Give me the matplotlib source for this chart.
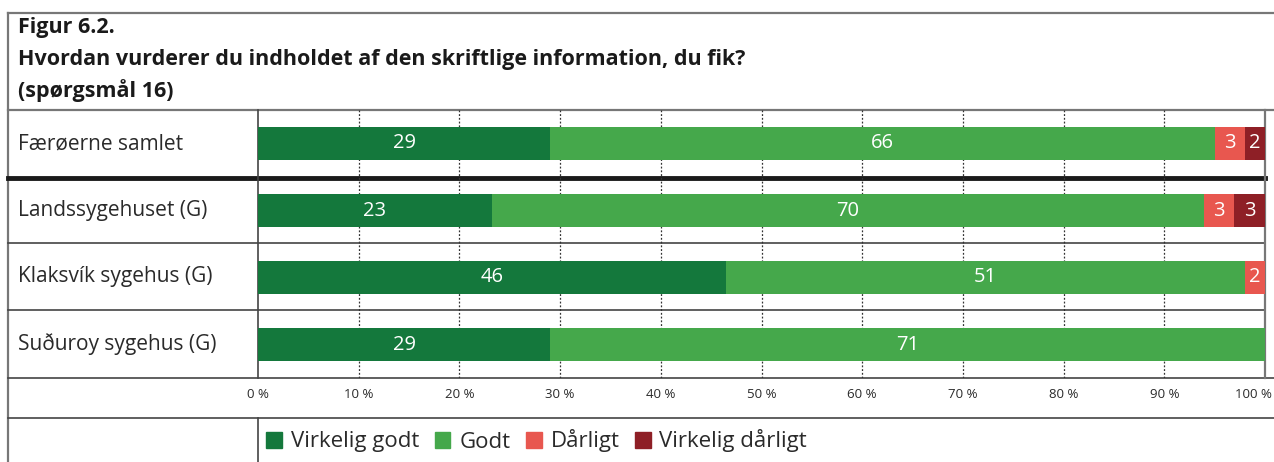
import numpy as np
import matplotlib.pyplot as plt
from matplotlib.patches import Patch

plt.rcParams['font.family'] = ['Open Sans', 'DejaVu Sans']

###############################################################
# Data
###############################################################
title_lines = ['Figur 6.2.',
               'Hvordan vurderer du indholdet af den skriftlige information, du fik?',
               '(spørgsmål 16)']
units = ['Færøerne samlet', 'Landssygehuset (G)', 'Klaksvík sygehus (G)', 'Suðuroy sygehus (G)']
categories = ['Virkelig godt', 'Godt', 'Dårligt', 'Virkelig dårligt']
virkelig_godt = [29, 23, 46, 29]
godt = [66, 70, 51, 71]
daarligt = [3, 3, 2, 0]
virkelig_daarligt = [2, 3, 0, 0]
ticks = [0, 10, 20, 30, 40, 50, 60, 70, 80, 90, 100]
colors = ['#14783c', '#45a84b', '#e8574f', '#8e1f26']

###############################################################
# Figure
###############################################################
W, H = 1274, 462
fig = plt.figure(figsize=(W / 100, H / 100), dpi=100)

# overlay in pixel coordinates for the table frame
bg = fig.add_axes([0, 0, 1, 1])
bg.set_xlim(0, W)
bg.set_ylim(H, 0)
bg.axis('off')

x0, x1 = 258, 1265
rows = [110, 178, 243, 310, 378]
lc = '#444444'

bg.plot([8, W], [13, 13], color='#777777', lw=1.6)
bg.plot([8, 8], [13, H], color='#777777', lw=1.6)
bg.plot([8, W], [110, 110], color='#777777', lw=1.6)
bg.plot([8, x1], [178, 178], color='#1a1a1a', lw=3.5)
bg.plot([8, x1], [243, 243], color=lc, lw=1.2)
bg.plot([8, x1], [310, 310], color=lc, lw=1.2)
bg.plot([8, W], [378, 378], color=lc, lw=1.2)
bg.plot([8, W], [418, 418], color=lc, lw=1.2)
bg.plot([x0, x0], [110, 378], color=lc, lw=1.2)
bg.plot([x0, x0], [418, H], color=lc, lw=1.2)
bg.plot([x1, x1], [110, 378], color='#777777', lw=1.6)

for i, line in enumerate(title_lines):
    bg.text(18, 28 + i * 31.5, line, fontsize=15.5, fontweight='bold',
            color='#1a1a1a', va='center', ha='left')

for i, name in enumerate(units):
    yc = (rows[i] + rows[i + 1]) / 2
    bg.text(18, yc, name, fontsize=15, color='#2a2a2a', va='center', ha='left')

# bar axes
ax = fig.add_axes([x0 / W, 1 - 378 / H, (x1 - x0) / W, (378 - 110) / H])
ax.set_xlim(0, 100)
ax.set_ylim(len(units) - 0.5, -0.5)
ax.axis('off')

for t in ticks[1:-1]:
    ax.axvline(t, color='#333333', lw=0.9, ls=(0, (1.5, 1.5)), zorder=0)

data = np.array([virkelig_godt, godt, daarligt, virkelig_daarligt], dtype=float)
shares = data / data.sum(axis=0) * 100
left = np.zeros(len(units))
for k, cat in enumerate(categories):
    ax.barh(range(len(units)), shares[k], left=left, height=0.5,
            color=colors[k], zorder=2)
    for j in range(len(units)):
        if data[k, j] > 0:
            ax.text(left[j] + shares[k, j] / 2, j, '%d' % data[k, j],
                    color='white', fontsize=14.5, ha='center', va='center', zorder=3)
    left += shares[k]

for t in ticks:
    xt = x0 + (x1 - x0) * t / 100
    if t == ticks[-1]:
        # keep the last label inside the picture
        bg.text(W - 2, 394, '%d %%' % t, fontsize=9.5,
                color='#2a2a2a', ha='right', va='center')
    else:
        bg.text(xt, 394, '%d %%' % t, fontsize=9.5,
                color='#2a2a2a', ha='center', va='center')

handles = [Patch(facecolor=c, edgecolor=c) for c in colors]
fig.legend(handles, categories, loc='center left', ncol=4,
           bbox_to_anchor=(262 / W, 1 - 441 / H), frameon=False,
           fontsize=16, handlelength=0.7, handleheight=0.7,
           handletextpad=0.4, columnspacing=0.7, labelcolor='#2a2a2a',
           borderaxespad=0, borderpad=0.2)

fig.savefig('out.png', dpi=100)
